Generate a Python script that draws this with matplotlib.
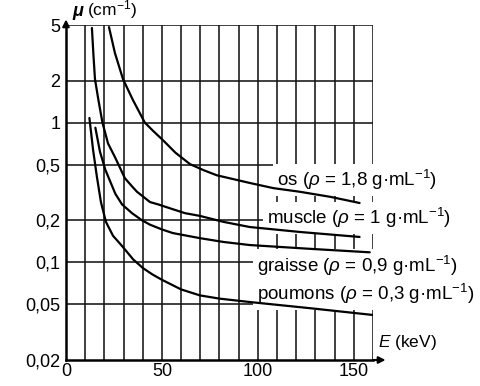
import matplotlib
matplotlib.use("Agg")
import matplotlib.pyplot as plt

plt.rcParams["font.family"] = ["Liberation Sans", "DejaVu Sans"]
plt.rcParams["mathtext.fontset"] = "custom"
plt.rcParams["mathtext.rm"] = "Liberation Sans"
plt.rcParams["mathtext.it"] = "Liberation Sans:italic"

# values (E in keV, mu in cm-1)
os_e = [22.4, 25.5, 29.7, 34.9, 41.1, 45.5, 50.5, 57, 64.6, 71.5, 78.6, 95.8,
        108, 121.9, 138, 153]
os_mu = [4.83, 3.15, 2.05, 1.45, 1.0, 0.87, 0.75, 0.61, 0.505, 0.458, 0.42,
         0.37, 0.34, 0.32, 0.294, 0.266]

muscle_e = [13.5, 14.3, 15.1, 16.9, 19.0, 21.9, 25.7, 30.7, 34.4, 37, 39.6,
            43.8, 48, 55.7, 62, 69.8, 82, 95.8, 121.9, 153]
muscle_mu = [4.76, 3.05, 2.05, 1.45, 1.0, 0.71, 0.56, 0.40, 0.35, 0.32, 0.30,
             0.27, 0.26, 0.24, 0.225, 0.215, 0.195, 0.179, 0.165, 0.152]

graisse_e = [15.3, 17.7, 20.5, 25.7, 29.2, 34.4, 39.6, 43.8, 50, 55.7, 69.8,
             82, 95.8, 127, 158.3]
graisse_mu = [0.92, 0.62, 0.46, 0.31, 0.26, 0.225, 0.20, 0.186, 0.172, 0.162,
              0.149, 0.14, 0.133, 0.125, 0.118]

poumons_e = [12.2, 14.1, 16.1, 18.2, 20.8, 24.5, 29.2, 35, 40.1, 45, 50, 60,
             69.8, 80, 95.8, 127, 160]
poumons_mu = [1.08, 0.64, 0.41, 0.27, 0.195, 0.155, 0.131, 0.105, 0.091, 0.082,
              0.075, 0.064, 0.058, 0.055, 0.052, 0.047, 0.042]

y_ticks = [0.02, 0.05, 0.1, 0.2, 0.5, 1, 2, 5]
y_labels = ["0,02", "0,05", "0,1", "0,2", "0,5", "1", "2", "5"]
x_ticks = [0, 50, 100, 150]

fig = plt.figure(figsize=(4.81, 3.86), dpi=100)
ax = fig.add_axes([66 / 481, 26 / 386, 307 / 481, 335 / 386])
ax.set_yscale("log")
ax.set_xlim(0, 160)
ax.set_ylim(0.02, 5)

# grid
for x in range(10, 161, 10):
    ax.axvline(x, color="#151515", lw=1.15, zorder=1)
for y in y_ticks[1:]:
    ax.axhline(y, color="#151515", lw=1.15, zorder=1)

for e, mu in [(os_e, os_mu), (muscle_e, muscle_mu),
              (graisse_e, graisse_mu), (poumons_e, poumons_mu)]:
    ax.plot(e, mu, color="black", lw=1.6, zorder=4, solid_capstyle="round",
            solid_joinstyle="round")

ax.set_yticks(y_ticks)
ax.set_yticklabels(y_labels)
ax.minorticks_off()
ax.set_xticks(x_ticks)
ax.tick_params(length=0, labelsize=13, pad=4)
ax.tick_params(axis="x", pad=2)

for s in ["top", "right"]:
    ax.spines[s].set_visible(False)
ax.spines["left"].set_linewidth(1.8)
ax.spines["bottom"].set_linewidth(1.8)

# axis arrows
ax.annotate("", xy=(0, 1.025), xytext=(0, 0.99), xycoords="axes fraction",
            arrowprops=dict(arrowstyle="-|>", color="black", lw=1.5,
                            mutation_scale=10), annotation_clip=False)
ax.annotate("", xy=(1.05, 0), xytext=(0.99, 0), xycoords="axes fraction",
            arrowprops=dict(arrowstyle="-|>", color="black", lw=1.5,
                            mutation_scale=10), annotation_clip=False)

# axis titles
fig.text(72 / 481, 1 - 12 / 386, "μ", fontsize=13, fontweight="bold",
         fontstyle="italic", va="center", ha="left")
fig.text(87 / 481, 1 - 10 / 386, "(cm$^{-1}$)", fontsize=12.5, va="center",
         ha="left")
fig.text(378 / 481, 1 - 343 / 386, "$E$ (keV)", fontsize=12.5, va="center",
         ha="left")

box = dict(facecolor="white", edgecolor="none", pad=3)
ax.text(110, 0.39, "os ($\\rho$ = 1,8 g·mL$^{-1}$)", fontsize=13.5,
        va="center", ha="left", bbox=box, zorder=3)
ax.text(105, 0.208, "muscle ($\\rho$ = 1 g·mL$^{-1}$)", fontsize=13.5,
        va="center", ha="left", bbox=box, zorder=3)
ax.text(99.5, 0.075, "graisse ($\\rho$ = 0,9 g·mL$^{-1}$)\n"
        "poumons ($\\rho$ = 0,3 g·mL$^{-1}$)", fontsize=13.5,
        va="center", ha="left", linespacing=1.25, bbox=box, zorder=3)

fig.savefig("out.png", dpi=100)
